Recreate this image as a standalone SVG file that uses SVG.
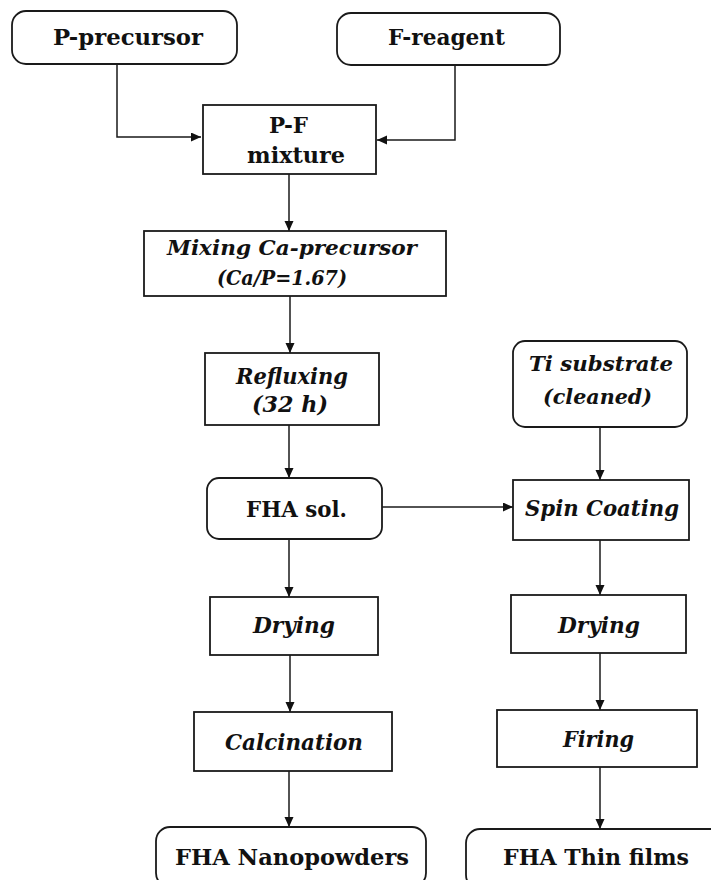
<svg xmlns="http://www.w3.org/2000/svg" width="711" height="880" viewBox="0 0 711 880">
<style>
.box{fill:#fff;stroke:#1a1a1a;stroke-width:1.8}
.b{font-family:"DejaVu Serif","Liberation Serif",serif;font-weight:bold;fill:#111;text-anchor:start}
.i{font-family:"DejaVu Serif","Liberation Serif",serif;font-weight:bold;font-style:italic;fill:#111;text-anchor:start}
.ln{fill:none;stroke:#1a1a1a;stroke-width:1.5}
</style>
<defs>
<marker id="ah" markerUnits="userSpaceOnUse" markerWidth="12" markerHeight="10" refX="10" refY="4.5" orient="auto">
<path d="M0,0 L10,4.5 L0,9 Z" fill="#111"/>
</marker>
</defs>
<rect width="711" height="880" fill="#fff"/>
<g id="connectors">
<polyline class="ln" points="117,64 117,137 201,137" marker-end="url(#ah)"/>
<polyline class="ln" points="455,65 455,140 377,140" marker-end="url(#ah)"/>
<line class="ln" x1="289" y1="174" x2="289" y2="231" marker-end="url(#ah)"/>
<line class="ln" x1="290" y1="296" x2="290" y2="353" marker-end="url(#ah)"/>
<line class="ln" x1="289" y1="425" x2="289" y2="478" marker-end="url(#ah)"/>
<line class="ln" x1="289" y1="539" x2="289" y2="597" marker-end="url(#ah)"/>
<line class="ln" x1="290" y1="655" x2="290" y2="712" marker-end="url(#ah)"/>
<line class="ln" x1="289" y1="771" x2="289" y2="827" marker-end="url(#ah)"/>
<line class="ln" x1="600" y1="427" x2="600" y2="480" marker-end="url(#ah)"/>
<line class="ln" x1="600" y1="540" x2="600" y2="595" marker-end="url(#ah)"/>
<line class="ln" x1="600" y1="653" x2="600" y2="710" marker-end="url(#ah)"/>
<line class="ln" x1="600" y1="767" x2="600" y2="829" marker-end="url(#ah)"/>
<line class="ln" x1="382" y1="507" x2="513" y2="507" marker-end="url(#ah)"/>
</g>
<g id="p-precursor">
<rect class="box" x="12" y="11" width="225" height="53" rx="14"/>
<text class="b" x="53" y="45" font-size="22" textLength="150" lengthAdjust="spacingAndGlyphs">P-precursor</text>
</g>
<g id="f-reagent">
<rect class="box" x="337" y="13" width="223" height="52" rx="14"/>
<text class="b" x="388" y="45" font-size="22" textLength="117" lengthAdjust="spacingAndGlyphs">F-reagent</text>
</g>
<g id="pf-mixture">
<rect class="box" x="203" y="105" width="173" height="69"/>
<text class="b" x="269" y="133" font-size="22" textLength="39" lengthAdjust="spacingAndGlyphs">P-F</text>
<text class="b" x="247" y="163" font-size="22" textLength="98" lengthAdjust="spacingAndGlyphs">mixture</text>
</g>
<g id="mixing">
<rect class="box" x="144" y="231" width="302" height="65"/>
<text class="i" x="167" y="255" font-size="20" textLength="250" lengthAdjust="spacingAndGlyphs">Mixing Ca-precursor</text>
<text class="i" x="217" y="285" font-size="20" textLength="130" lengthAdjust="spacingAndGlyphs">(Ca/P=1.67)</text>
</g>
<g id="refluxing">
<rect class="box" x="205" y="353" width="174" height="72"/>
<text class="i" x="236" y="384" font-size="22" textLength="112" lengthAdjust="spacingAndGlyphs">Refluxing</text>
<text class="i" x="252" y="412" font-size="22" textLength="76" lengthAdjust="spacingAndGlyphs">(32 h)</text>
</g>
<g id="ti-substrate">
<rect class="box" x="513" y="341" width="174" height="86" rx="12"/>
<text class="i" x="529" y="371" font-size="21" textLength="144" lengthAdjust="spacingAndGlyphs">Ti substrate</text>
<text class="i" x="543" y="404" font-size="21" textLength="109" lengthAdjust="spacingAndGlyphs">(cleaned)</text>
</g>
<g id="fha-sol">
<rect class="box" x="207" y="478" width="175" height="61" rx="12"/>
<text class="b" x="246" y="517" font-size="22" textLength="101" lengthAdjust="spacingAndGlyphs">FHA sol.</text>
</g>
<g id="spin-coating">
<rect class="box" x="513" y="480" width="176" height="60"/>
<text class="i" x="525" y="516" font-size="22" textLength="154" lengthAdjust="spacingAndGlyphs">Spin Coating</text>
</g>
<g id="drying-left">
<rect class="box" x="210" y="597" width="168" height="58"/>
<text class="i" x="253" y="633" font-size="22" textLength="82" lengthAdjust="spacingAndGlyphs">Drying</text>
</g>
<g id="drying-right">
<rect class="box" x="511" y="595" width="175" height="58"/>
<text class="i" x="558" y="633" font-size="22" textLength="82" lengthAdjust="spacingAndGlyphs">Drying</text>
</g>
<g id="calcination">
<rect class="box" x="194" y="712" width="198" height="59"/>
<text class="i" x="225" y="750" font-size="22" textLength="138" lengthAdjust="spacingAndGlyphs">Calcination</text>
</g>
<g id="firing">
<rect class="box" x="497" y="710" width="200" height="57"/>
<text class="i" x="563" y="747" font-size="22" textLength="71" lengthAdjust="spacingAndGlyphs">Firing</text>
</g>
<g id="fha-nanopowders">
<rect class="box" x="156" y="827" width="270" height="60" rx="14"/>
<text class="b" x="175" y="865" font-size="23" textLength="234" lengthAdjust="spacingAndGlyphs">FHA Nanopowders</text>
</g>
<g id="fha-thin-films">
<rect class="box" x="466" y="829" width="260" height="60" rx="14"/>
<text class="b" x="503" y="865" font-size="23" textLength="186" lengthAdjust="spacingAndGlyphs">FHA Thin films</text>
</g>
</svg>
